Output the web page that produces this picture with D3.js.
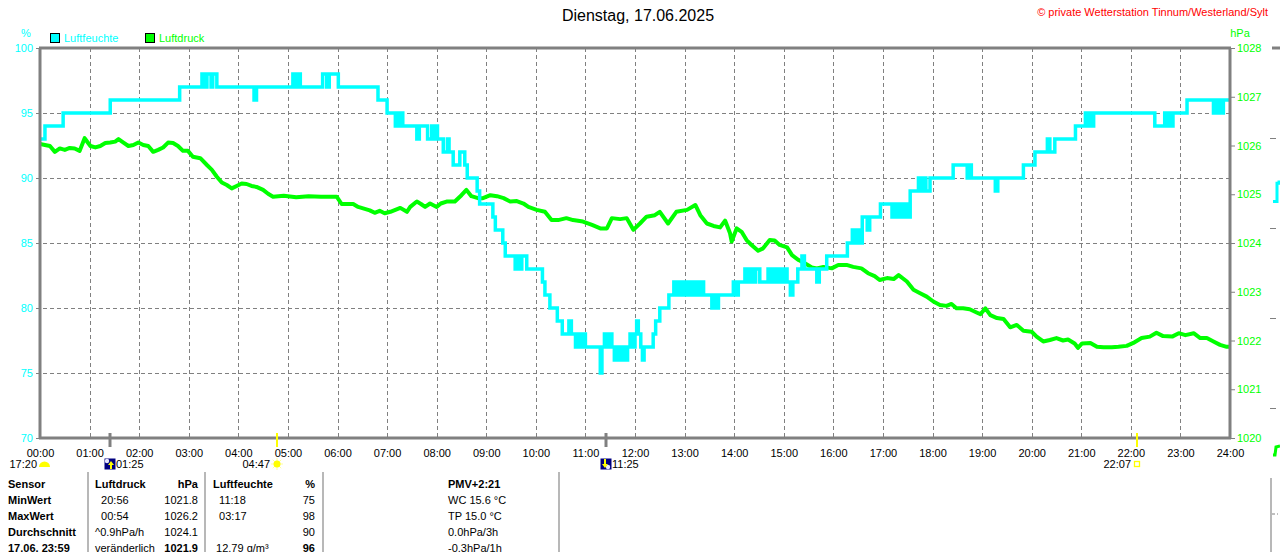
<!DOCTYPE html>
<html>
<head>
<meta charset="utf-8">
<script src="https://cdn.jsdelivr.net/npm/d3@7"></script>
<style>
  html, body { margin: 0; padding: 0; background: #fff; }
  svg { display: block; font-family: "Liberation Sans", Arial, sans-serif; }
</style>
</head>
<body>
<svg id="chart" width="1280" height="552"></svg>
<script>
// Tagesgang Luftfeuchte / Luftdruck, 17.06.2025
const hourLabels = ["00:00","01:00","02:00","03:00","04:00","05:00","06:00","07:00","08:00",
  "09:00","10:00","11:00","12:00","13:00","14:00","15:00","16:00","17:00","18:00","19:00",
  "20:00","21:00","22:00","23:00","24:00"];
const humTicks = [70, 75, 80, 85, 90, 95, 100];
const presTicks = [1020, 1021, 1022, 1023, 1024, 1025, 1026, 1027, 1028];

// humidity: minute of day where the value changes, and the new value (%)
const humMin = [0,6,28,85,169,196,200,202,207,209,214,259,262,306,309,311,315,342,347,350,361,
  409,420,430,432,434,436,439,456,459,469,474,476,479,481,488,493,495,500,508,514,517,529,532,
  548,551,560,563,575,578,581,583,589,608,611,617,626,632,640,643,648,651,654,657,660,678,680,
  683,686,689,692,695,698,701,704,708,711,714,718,720,722,724,727,729,731,742,745,750,761,767,
  769,772,775,778,781,784,788,792,795,799,803,813,816,819,821,839,842,845,853,856,859,862,866,
  871,881,884,887,889,893,897,900,904,908,911,917,922,925,940,943,952,977,983,986,989,992,995,
  1001,1004,1017,1031,1034,1037,1040,1043,1046,1049,1053,1063,1066,1069,1072,1077,1105,1122,
  1124,1127,1156,1159,1190,1204,1219,1222,1228,1253,1265,1268,1271,1273,1275,1349,1361,1363,
  1366,1368,1371,1388,1420,1423,1425,1428,1430,1432,1440];
const humVal = [93,94,95,96,97,98,97,98,97,98,97,96,97,98,97,98,97,98,97,98,97,
  96,95,94,95,94,95,94,93,94,93,94,93,94,93,92,93,92,91,92,91,90,89,88,
  87,86,85,84,83,84,83,84,83,82,81,80,79,78,79,78,77,78,77,78,77,75,77,
  78,77,78,77,76,77,76,77,76,77,78,77,78,79,78,77,76,77,78,79,80,81,82,
  81,82,81,82,81,82,81,82,81,82,81,80,81,80,81,82,81,82,83,82,83,82,83,
  82,83,82,83,82,83,82,83,82,81,82,83,84,83,82,83,84,85,86,85,86,85,87,
  86,87,88,87,88,87,88,87,88,87,89,90,89,90,89,90,91,90,
  91,90,89,90,91,92,93,92,93,94,95,94,95,94,95,94,95,94,
  95,94,95,96,95,96,95,96,95,96,96];

// pressure: minute of day and value (hPa)
const presMin = [0,6,12,18,24,30,36,42,48,54,61,67,73,79,85,91,95,101,107,113,119,125,131,137,
  143,149,155,161,167,173,179,185,194,202,208,214,220,226,232,238,244,250,256,262,270,276,282,
  295,310,325,340,359,365,379,385,391,399,405,411,417,424,430,436,444,448,456,461,466,472,480,
  485,492,502,510,516,522,530,536,545,553,561,569,577,585,591,601,611,619,627,637,645,657,668,
  678,686,692,702,710,718,726,734,744,750,760,770,783,793,799,807,815,823,829,835,837,843,849,
  855,861,869,875,883,889,895,904,910,918,926,934,940,948,958,966,976,984,994,1002,1010,1016,
  1025,1033,1039,1049,1057,1065,1073,1081,1089,1097,1103,1109,1117,1125,1134,1138,1144,1150,
  1158,1166,1174,1182,1190,1200,1206,1214,1222,1230,1238,1244,1252,1256,1261,1271,1279,1287,
  1297,1305,1315,1323,1333,1343,1351,1359,1370,1378,1386,1396,1404,1412,1420,1428,1436,1440];
const presVal = [1026.03,1026.01,1025.99,1025.87,1025.94,1025.91,1025.95,1025.94,1025.89,1026.15,
  1025.99,1025.96,1025.99,1026.05,1026.06,1026.08,1026.13,1026.06,1025.99,1026.01,1026.06,1026.01,
  1025.99,1025.87,1025.91,1025.96,1026.06,1026.05,1025.99,1025.89,1025.89,1025.77,1025.74,1025.60,
  1025.50,1025.36,1025.24,1025.19,1025.12,1025.17,1025.22,1025.21,1025.17,1025.15,1025.09,1025.01,
  1024.95,1024.97,1024.94,1024.96,1024.95,1024.95,1024.80,1024.80,1024.74,1024.71,1024.67,1024.62,
  1024.66,1024.61,1024.64,1024.68,1024.72,1024.64,1024.74,1024.85,1024.80,1024.74,1024.81,1024.74,
  1024.81,1024.85,1024.85,1024.98,1025.09,1024.96,1024.92,1024.92,1024.98,1024.96,1024.92,1024.85,
  1024.86,1024.81,1024.74,1024.68,1024.64,1024.47,1024.47,1024.51,1024.47,1024.44,1024.37,1024.30,
  1024.30,1024.51,1024.49,1024.51,1024.27,1024.40,1024.54,1024.57,1024.64,1024.40,1024.64,1024.68,
  1024.78,1024.57,1024.40,1024.35,1024.32,1024.46,1024.20,1024.03,1024.30,1024.23,1024.06,1023.96,
  1023.84,1023.89,1024.06,1024.05,1023.96,1023.91,1023.75,1023.65,1023.58,1023.50,1023.48,1023.51,
  1023.48,1023.55,1023.55,1023.51,1023.48,1023.38,1023.32,1023.24,1023.28,1023.26,1023.34,1023.21,
  1023.04,1022.97,1022.90,1022.80,1022.73,1022.71,1022.75,1022.66,1022.66,1022.64,1022.57,1022.54,
  1022.66,1022.52,1022.46,1022.44,1022.27,1022.32,1022.20,1022.18,1022.08,1021.98,1022.01,1022.05,
  1022.00,1022.02,1021.94,1021.85,1021.94,1021.95,1021.87,1021.86,1021.86,1021.87,1021.89,1021.95,
  1022.05,1022.08,1022.16,1022.09,1022.08,1022.15,1022.11,1022.15,1022.05,1022.05,1021.98,1021.91,
  1021.87,1021.87];

// sun / moon events below the time axis
const eventMin = [85, 287, 685, 1327];
const eventLabel = ["01:25", "04:47", "11:25", "22:07"];
const eventKind = ["moonrise", "sunrise", "moonset", "sunset"];
const prevEventLabel = "17:20";

// statistics table
const tableRows = [
  ["Sensor", "Luftdruck", "hPa", "Luftfeuchte", "%", "PMV+2:21"],
  ["MinWert", "\u00a0\u00a020:56", "1021.8", "\u00a0\u00a011:18", "75", "WC 15.6 °C"],
  ["MaxWert", "\u00a0\u00a000:54", "1026.2", "\u00a0\u00a003:17", "98", "TP 15.0 °C"],
  ["Durchschnitt", "^0.9hPa/h", "1024.1", "", "90", "0.0hPa/3h"],
  ["17.06. 23:59", "veränderlich", "1021.9", "\u00a012.79 g/m³", "96", "-0.3hPa/1h"]
];
const tableBold = [[1,1,1,1,1,1],[1,0,0,0,0,0],[1,0,0,0,0,0],[1,0,0,0,0,0],[1,0,1,0,1,0]];

// fragment of the neighbouring chart that pokes in at the right edge
const nextGrid = [1, 2, 3, 4];
const nextHum = [88.2, 88.2, 89.6, 89.8];

const CYAN = "#00ffff", GREEN = "#00ff00", GREY = "#808080";

const svg = d3.select("#chart");
const L = 40, R = 1230, T = 48, B = 438;

const x = d3.scaleLinear().domain([0, 1440]).range([L, R]);
const yH = d3.scaleLinear().domain([70, 100]).range([B, T]);
const yP = d3.scaleLinear().domain([1020, 1028]).range([B, T]);

// title + copyright
svg.append("text").attr("x", 638).attr("y", 21).attr("text-anchor", "middle")
  .attr("font-size", 16).attr("fill", "#000").text("Dienstag, 17.06.2025");
svg.append("text").attr("x", 1268).attr("y", 16).attr("text-anchor", "end")
  .attr("font-size", 11).attr("fill", "#ff0000")
  .text("© private Wetterstation Tinnum/Westerland/Sylt");

// unit labels and legend
svg.append("text").attr("x", 26).attr("y", 37).attr("text-anchor", "middle")
  .attr("font-size", 11).attr("fill", CYAN).text("%");
svg.append("text").attr("x", 1240).attr("y", 37).attr("text-anchor", "middle")
  .attr("font-size", 11).attr("fill", GREEN).text("hPa");
const legend = [["Luftfeuchte", CYAN, 50], ["Luftdruck", GREEN, 145]];
legend.forEach(([name, col, lx]) => {
  svg.append("rect").attr("x", lx + 0.5).attr("y", 33.5).attr("width", 9).attr("height", 9)
    .attr("fill", col).attr("stroke", "#000");
  svg.append("text").attr("x", lx + 14).attr("y", 42).attr("font-size", 11)
    .attr("fill", col).text(name);
});

// grid
const grid = svg.append("g").attr("stroke", GREY).attr("stroke-width", 1)
  .attr("stroke-dasharray", "4,3");
grid.selectAll("line.v").data(d3.range(1, 24)).join("line")
  .attr("x1", (h) => Math.round(x(h * 60)) + 0.5).attr("x2", (h) => Math.round(x(h * 60)) + 0.5)
  .attr("y1", T).attr("y2", B);
grid.selectAll("line.h").data(humTicks.slice(1, -1)).join("line")
  .attr("x1", L - 4).attr("x2", R).attr("y1", (d) => Math.round(yH(d)) + 0.5)
  .attr("y2", (d) => Math.round(yH(d)) + 0.5);

// axes
const axL = svg.append("g").attr("transform", `translate(${L},0)`)
  .call(d3.axisLeft(yH).tickValues(humTicks).tickSize(4).tickPadding(3));
axL.select(".domain").remove();
axL.selectAll("line").attr("stroke", GREY);
axL.selectAll("text").attr("fill", CYAN).attr("font-size", 11).attr("font-family", null);

const axR = svg.append("g").attr("transform", `translate(${R},0)`)
  .call(d3.axisRight(yP).tickValues(presTicks).tickSize(5).tickPadding(2)
    .tickFormat(d3.format("d")));
axR.select(".domain").remove();
axR.selectAll("line").attr("stroke", GREY);
axR.selectAll("text").attr("fill", GREEN).attr("font-size", 11).attr("font-family", null);

const axB = svg.append("g").attr("transform", `translate(0,${B})`)
  .call(d3.axisBottom(x).tickValues(d3.range(0, 25).map((h) => h * 60))
    .tickSize(0).tickPadding(11).tickFormat((d, i) => hourLabels[i]));
axB.select(".domain").remove();
axB.selectAll("text").attr("fill", "#000").attr("font-size", 11).attr("font-family", null);

// data lines
svg.append("clipPath").attr("id", "plot").append("rect")
  .attr("x", L).attr("y", T - 3).attr("width", R - L).attr("height", B - T + 6);

const presData = presMin.map((m, i) => ({ m, v: presVal[i] }));
const humData = humMin.map((m, i) => ({ m, v: humVal[i] }));

svg.append("path").datum(presData).attr("clip-path", "url(#plot)")
  .attr("fill", "none").attr("stroke", GREEN).attr("stroke-width", 4)
  .attr("stroke-linejoin", "round")
  .attr("d", d3.line().x((d) => x(d.m)).y((d) => yP(d.v)));

svg.append("path").datum(humData).attr("clip-path", "url(#plot)")
  .attr("fill", "none").attr("stroke", CYAN).attr("stroke-width", 3.5)
  .attr("d", d3.line().curve(d3.curveStepAfter).x((d) => x(d.m)).y((d) => yH(d.v)));

// frame
const frame = svg.append("g").attr("stroke", GREY).attr("stroke-width", 3);
frame.append("line").attr("x1", L - 1).attr("x2", R + 1).attr("y1", T).attr("y2", T);
frame.append("line").attr("x1", L - 1).attr("x2", R + 1).attr("y1", B).attr("y2", B);
frame.append("line").attr("x1", L).attr("x2", L).attr("y1", T).attr("y2", B);
frame.append("line").attr("x1", R).attr("x2", R).attr("y1", T).attr("y2", B);

// sun / moon events
const ev = svg.append("g");
eventMin.forEach((m, i) => {
  const ex = Math.round(x(m));
  const kind = eventKind[i];
  const isSun = kind.startsWith("sun");
  ev.append("line").attr("x1", ex).attr("x2", ex).attr("y1", 433).attr("y2", 447)
    .attr("stroke", isSun ? "#ffff00" : GREY).attr("stroke-width", isSun ? 2 : 3);
  const cy = 464;
  if (kind === "sunrise") {
    const g = ev.append("g").attr("transform", `translate(${ex},${cy})`);
    d3.range(0, 8).forEach((k) => {
      const a = k * Math.PI / 4;
      g.append("line").attr("x1", Math.cos(a) * 3).attr("y1", Math.sin(a) * 3)
        .attr("x2", Math.cos(a) * 6).attr("y2", Math.sin(a) * 6)
        .attr("stroke", "#ffff99").attr("stroke-width", 1);
    });
    g.append("circle").attr("r", 3.5).attr("fill", "#ffff00");
  } else if (kind === "sunset") {
    ev.append("rect").attr("x", ex - 2.5).attr("y", cy - 2.5).attr("width", 5).attr("height", 5)
      .attr("fill", "none").attr("stroke", "#ffff00").attr("stroke-width", 1.3);
  } else {
    const g = ev.append("g").attr("transform", `translate(${ex},${cy})`);
    g.append("rect").attr("x", -5.5).attr("y", -5.5).attr("width", 11).attr("height", 11)
      .attr("fill", "#000080");
    const up = kind === "moonrise";
    g.append("circle").attr("cx", up ? -3 : 2).attr("cy", up ? -3 : 3).attr("r", 2.2)
      .attr("fill", "#e8e8ff");
    g.append("path").attr("fill", "#ffff00")
      .attr("d", up ? "M1,-3 L4,1 L2,1 L2,5 L0,5 L0,1 L-2,1 Z" : "M-2,-5 L0,-5 L0,0 L2,0 L-1,4 L-4,0 L-2,0 Z");
  }
  const right = !isSun;
  ev.append("text").attr("x", right ? ex + 6 : ex - (kind === "sunset" ? 6 : 7))
    .attr("y", cy + 4).attr("text-anchor", right ? "start" : "end")
    .attr("font-size", 11).attr("fill", "#000").text(eventLabel[i]);
});
// previous-day event at the very left
ev.append("text").attr("x", 37).attr("y", 468).attr("text-anchor", "end")
  .attr("font-size", 11).attr("fill", "#000").text(prevEventLabel);
ev.append("path").attr("fill", "#ffff00").attr("d", "M39,467 A5.5,5.5 0 0 1 50,467 Z");

// table
const colX = [8, 95, 198, 213, 315, 448];
const colAnchor = ["start", "start", "end", "start", "end", "start"];
const tbl = svg.append("g").attr("font-size", 11).attr("fill", "#000");
tableRows.forEach((row, r) => {
  row.forEach((cell, c) => {
    tbl.append("text").attr("x", colX[c]).attr("y", 488 + r * 16)
      .attr("text-anchor", colAnchor[c])
      .attr("font-weight", tableBold[r][c] ? "bold" : "normal")
      .text(cell);
  });
});
const sep = svg.append("g").attr("stroke", "#a0a0a0").attr("stroke-width", 1.5);
[88, 205, 323, 559, 1271].forEach((sx) => {
  sep.append("line").attr("x1", sx).attr("x2", sx).attr("y1", sx === 1271 ? 478 : 472).attr("y2", 552);
});

// neighbouring chart fragment at the right edge
const yNext = d3.scaleLinear().domain([0, 4.33]).range([T, B]);
const xNext = d3.scaleLinear().domain([0, 3]).range([1273, 1279]);
svg.append("line").attr("x1", 1272).attr("x2", 1280).attr("y1", T).attr("y2", T)
  .attr("stroke", GREY).attr("stroke-width", 3);
svg.selectAll("line.nx").data(nextGrid).join("line")
  .attr("x1", 1270).attr("x2", 1276).attr("y1", (d) => Math.round(yNext(d)) + 0.5)
  .attr("y2", (d) => Math.round(yNext(d)) + 0.5).attr("stroke", GREY);
svg.append("path").datum(nextHum).attr("fill", "none").attr("stroke", CYAN).attr("stroke-width", 3)
  .attr("d", d3.line().curve(d3.curveStepAfter).x((d, i) => xNext(i)).y((d) => yH(d)));
svg.append("path").attr("fill", "none").attr("stroke", GREEN).attr("stroke-width", 3)
  .attr("d", "M1273,455 L1275,455 L1276,447 L1280,446");
svg.append("line").attr("x1", 1272).attr("x2", 1278).attr("y1", 514).attr("y2", 514)
  .attr("stroke", GREY).attr("stroke-dasharray", "3,2");
</script>
</body>
</html>
